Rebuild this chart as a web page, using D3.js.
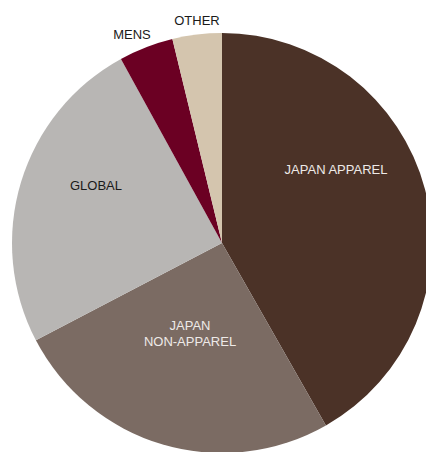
<!DOCTYPE html>
<html>
<head>
<meta charset="utf-8">
<script src="https://cdn.jsdelivr.net/npm/d3@7"></script>
<style>
html,body{margin:0;padding:0;background:#fff;}
svg{display:block;}
</style>
</head>
<body>
<svg id="chart" width="426" height="452"></svg>
<script>
const categories = ["JAPAN APPAREL", "JAPAN NON-APPAREL", "GLOBAL", "MENS", "OTHER"];
const labelLines = [["JAPAN APPAREL"], ["JAPAN", "NON-APPAREL"], ["GLOBAL"], ["MENS"], ["OTHER"]];
const values = [41.8, 25.6, 24.7, 4.2, 3.8];
const colors = ["#4b3227", "#7b6b63", "#b8b6b4", "#6b0023", "#d4c5ae"];
const textColors = ["#eeeae8", "#eeeae8", "#1a1a1a", "#1a1a1a", "#1a1a1a"];
// label baseline anchors relative to pie centre (layout only)
const labelOffsets = [[114, -69], [-32, 87], [-126, -53], [-90, -204], [-25, -218]];

const svg = d3.select("#chart");
const cx = 222, cy = 243, r = 210;
const g = svg.append("g").attr("transform", `translate(${cx},${cy})`);

const data = categories.map((c, i) => ({c, v: values[i], i}));
const pie = d3.pie().value(d => d.v).sort(null);
const arc = d3.arc().innerRadius(0).outerRadius(r);

g.selectAll("path").data(pie(data)).join("path")
  .attr("d", arc)
  .attr("fill", d => colors[d.data.i]);

const fs = 13;
data.forEach(d => {
  const [dx, dy] = labelOffsets[d.i];
  const lines = labelLines[d.i];
  const t = g.append("text")
    .attr("x", dx).attr("y", dy)
    .attr("text-anchor", "middle")
    .style("font-family", "'Liberation Sans', Arial, sans-serif")
    .attr("font-size", fs)
    .attr("fill", textColors[d.i]);
  lines.forEach((ln, k) => {
    t.append("tspan").attr("x", dx).attr("y", dy + k * 16).text(ln);
  });
});
</script>
</body>
</html>
